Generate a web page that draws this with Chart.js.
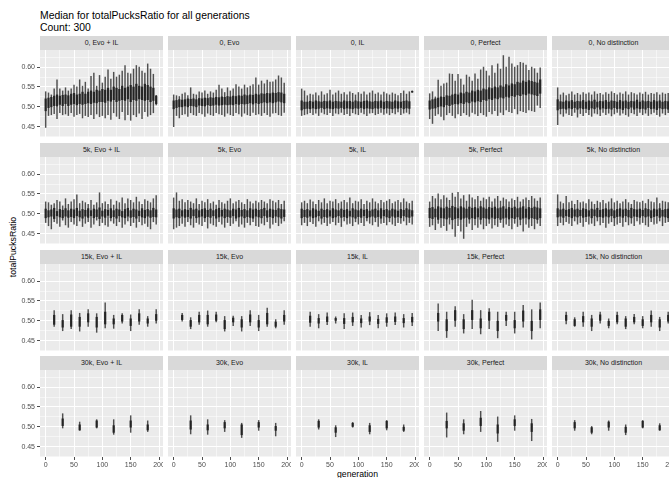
<!DOCTYPE html>
<html>
<head>
<meta charset="utf-8">
<title>Median for totalPucksRatio for all generations</title>
<script src="https://cdn.jsdelivr.net/npm/chart.js@4"></script>
<style>
    html, body { margin: 0; padding: 0; width: 669px; height: 478px; overflow: hidden; background: #fff; }
    body { font-family: 'Liberation Sans', Arial, sans-serif; }
    #page { position: relative; width: 669px; height: 478px; overflow: hidden; }
    .strip { position: absolute; height: 14px; width: 123px; background: #d9d9d9; color: #1a1a1a;
             font-size: 7px; line-height: 14px; text-align: center; white-space: nowrap; }
    .title { position: absolute; left: 40px; font-size: 10.4px; line-height: 1; color: #000; white-space: nowrap; }
    .axis-title { position: absolute; font-size: 8.7px; line-height: 1; color: #000; white-space: nowrap; }
    canvas { position: absolute; }
</style>
</head>
<body>
<div id="page">
    <div class="title" style="top:10.5px">Median for totalPucksRatio for all generations</div>
    <div class="title" style="top:22.7px">Count: 300</div>
    <div class="axis-title" style="left:357.5px; top:469.6px; transform:translateX(-50%)">generation</div>
    <div class="axis-title" style="left:13px; top:246.5px; transform:translate(-50%,-50%) rotate(-90deg)">totalPucksRatio</div>
</div>
<script>
// ── Data ──────────────────────────────────────────────────

const colNames = ['Evo + IL', 'Evo', 'IL', 'Perfect', 'No distinction'];
const rowNames = ['0', '5k', '15k', '30k'];

const gensEvery5 = [0,5,10,15,20,25,30,35,40,45,50,55,60,65,70,75,80,85,90,95,100,105,110,115,120,125,130,135,140,145,150,155,160,165,170,175,180,185,190,195];
const gensEvery15 = [15,30,45,60,75,90,105,120,135,150,165,180,195];
const gensEvery30 = [30,60,90,120,150,180];

const xTicks = [0, 50, 100, 150, 200];
const yTicks = [0.45, 0.50, 0.55, 0.60];

// row "0"
const p0_evoIL_lo = [.448,.478,.480,.483,.470,.485,.480,.482,.478,.485,.476,.480,.483,.472,.478,.475,.480,.470,.482,.475,.478,.472,.480,.468,.485,.476,.470,.488,.467,.480,.466,.480,.475,.484,.470,.488,.476,.480,.485,.505];
const p0_evoIL_q1 = [.490,.498,.500,.503,.502,.506,.503,.508,.503,.506,.508,.505,.508,.506,.508,.510,.508,.511,.510,.513,.513,.511,.516,.514,.518,.513,.516,.518,.516,.520,.513,.518,.516,.520,.518,.516,.518,.513,.516,.508];
const p0_evoIL_q3 = [.520,.522,.524,.527,.530,.527,.529,.530,.528,.532,.534,.530,.532,.537,.532,.537,.540,.537,.542,.540,.544,.542,.547,.542,.550,.547,.544,.552,.547,.550,.554,.550,.557,.552,.550,.557,.554,.550,.547,.527];
const p0_evoIL_hi = [.538,.535,.530,.545,.568,.545,.540,.548,.540,.545,.555,.550,.568,.552,.562,.545,.577,.585,.552,.579,.560,.575,.593,.570,.587,.575,.580,.590,.604,.585,.583,.595,.604,.600,.590,.585,.608,.595,.582,.529];

const p0_evo_lo = [.450,.478,.472,.480,.482,.476,.485,.480,.478,.485,.482,.476,.484,.480,.478,.485,.482,.480,.476,.484,.480,.478,.485,.482,.476,.484,.480,.478,.486,.480,.482,.478,.485,.480,.476,.484,.485,.480,.478,.486];
const p0_evo_q1 = [.495,.498,.500,.500,.502,.500,.503,.502,.500,.504,.503,.502,.505,.503,.504,.506,.504,.505,.506,.505,.506,.505,.508,.506,.508,.507,.508,.510,.507,.510,.508,.510,.512,.510,.512,.510,.512,.514,.512,.510];
const p0_evo_q3 = [.515,.516,.518,.517,.518,.520,.519,.520,.518,.521,.520,.522,.521,.523,.522,.524,.523,.525,.524,.526,.525,.527,.526,.528,.527,.530,.528,.530,.529,.532,.530,.533,.532,.534,.533,.535,.534,.536,.535,.532];
const p0_evo_hi = [.530,.528,.526,.532,.535,.528,.548,.532,.530,.538,.535,.540,.532,.538,.535,.542,.555,.545,.536,.548,.540,.545,.556,.550,.545,.555,.548,.552,.556,.573,.555,.565,.558,.567,.562,.563,.568,.578,.573,.560];

const p0_il_lo = [.478,.480,.482,.485,.480,.484,.478,.486,.482,.480,.485,.478,.484,.482,.486,.480,.483,.478,.485,.482,.480,.486,.482,.478,.484,.485,.480,.483,.486,.481,.484,.480,.485,.482,.487,.480,.484,.486,.482,.536];
const p0_il_q1 = [.492,.495,.496,.495,.497,.495,.496,.498,.495,.497,.496,.495,.497,.496,.498,.495,.497,.496,.495,.497,.496,.498,.495,.497,.496,.495,.497,.496,.498,.495,.497,.496,.495,.497,.496,.498,.495,.497,.496,.537];
const p0_il_q3 = [.515,.512,.512,.514,.512,.515,.513,.512,.514,.513,.515,.512,.514,.513,.512,.515,.513,.514,.512,.515,.513,.512,.514,.515,.513,.512,.514,.513,.515,.512,.514,.513,.512,.515,.513,.512,.514,.515,.513,.539];
const p0_il_hi = [.545,.540,.528,.532,.530,.535,.528,.538,.530,.533,.542,.530,.535,.540,.532,.536,.530,.538,.534,.530,.536,.532,.538,.530,.535,.540,.532,.535,.530,.537,.533,.530,.535,.532,.528,.534,.540,.532,.538,.540];

const p0_perfect_lo = [.470,.458,.478,.482,.476,.467,.480,.485,.478,.472,.482,.478,.485,.480,.476,.486,.482,.478,.485,.480,.476,.488,.482,.490,.478,.486,.480,.492,.488,.485,.495,.482,.490,.488,.485,.492,.490,.488,.504,.498];
const p0_perfect_q1 = [.494,.496,.497,.500,.502,.500,.505,.503,.506,.508,.507,.510,.508,.512,.510,.514,.512,.515,.513,.518,.516,.520,.518,.522,.520,.524,.522,.526,.524,.528,.526,.530,.528,.532,.530,.534,.532,.530,.528,.534];
const p0_perfect_q3 = [.515,.518,.520,.522,.525,.524,.528,.527,.530,.532,.530,.535,.533,.537,.535,.540,.538,.542,.540,.545,.543,.548,.546,.550,.548,.553,.550,.556,.553,.558,.556,.562,.560,.565,.562,.566,.564,.562,.560,.568];
const p0_perfect_hi = [.533,.538,.525,.567,.552,.558,.560,.583,.582,.565,.582,.570,.555,.580,.575,.565,.583,.570,.593,.600,.590,.578,.604,.585,.608,.595,.629,.600,.625,.608,.600,.604,.612,.610,.605,.592,.600,.596,.585,.598];

const p0_none_lo = [.455,.482,.476,.484,.480,.478,.486,.474,.483,.478,.485,.480,.476,.484,.482,.478,.486,.480,.484,.477,.482,.486,.479,.484,.480,.476,.485,.482,.478,.486,.480,.484,.478,.482,.486,.480,.476,.484,.480,.485];
const p0_none_q1 = [.492,.495,.496,.494,.497,.495,.498,.494,.497,.495,.496,.493,.497,.495,.499,.494,.497,.495,.496,.494,.498,.495,.496,.493,.497,.495,.499,.494,.497,.495,.496,.494,.498,.495,.496,.493,.497,.495,.496,.494];
const p0_none_q3 = [.518,.513,.512,.515,.513,.516,.512,.514,.513,.516,.512,.515,.513,.517,.512,.514,.513,.516,.512,.515,.514,.512,.516,.513,.515,.512,.514,.513,.517,.512,.515,.513,.514,.512,.516,.513,.515,.512,.514,.513];
const p0_none_hi = [.548,.530,.535,.528,.532,.538,.530,.534,.530,.536,.532,.535,.530,.538,.532,.534,.530,.536,.532,.538,.534,.530,.535,.532,.538,.530,.536,.533,.530,.535,.532,.537,.530,.534,.532,.536,.530,.535,.532,.534];

// row "5k"
const p5k_evoIL_lo = [.478,.470,.462,.480,.476,.468,.484,.472,.466,.480,.474,.470,.482,.468,.476,.480,.466,.474,.484,.470,.478,.472,.468,.482,.476,.470,.480,.466,.474,.482,.470,.478,.466,.480,.472,.476,.468,.462,.480,.474];
const p5k_evoIL_q1 = [.490,.492,.494,.488,.495,.492,.490,.494,.491,.493,.490,.495,.492,.489,.494,.491,.495,.490,.493,.488,.494,.491,.496,.490,.493,.489,.495,.492,.490,.494,.491,.493,.489,.495,.492,.490,.494,.491,.493,.492];
const p5k_evoIL_q3 = [.512,.508,.510,.514,.506,.511,.509,.513,.508,.512,.510,.514,.507,.511,.509,.513,.508,.512,.510,.515,.507,.511,.509,.513,.508,.512,.510,.506,.511,.514,.508,.512,.510,.507,.513,.509,.511,.508,.514,.510];
const p5k_evoIL_hi = [.530,.528,.522,.526,.534,.530,.520,.538,.524,.530,.536,.548,.526,.532,.528,.524,.534,.522,.528,.553,.526,.530,.524,.536,.522,.532,.528,.540,.526,.538,.534,.528,.542,.530,.524,.536,.532,.528,.538,.546];

const p5k_evo_lo = [.462,.466,.470,.476,.468,.480,.472,.466,.478,.474,.470,.480,.464,.476,.472,.468,.480,.474,.466,.478,.470,.476,.482,.468,.474,.466,.478,.472,.480,.470,.468,.476,.472,.480,.464,.474,.478,.470,.476,.482];
const p5k_evo_q1 = [.489,.492,.490,.494,.491,.493,.489,.495,.490,.492,.494,.490,.493,.491,.495,.489,.492,.494,.490,.493,.491,.495,.489,.492,.494,.490,.493,.491,.489,.494,.492,.490,.495,.491,.493,.490,.494,.492,.489,.493];
const p5k_evo_q3 = [.513,.510,.512,.508,.511,.509,.514,.510,.512,.508,.511,.513,.509,.512,.508,.511,.514,.509,.512,.510,.508,.512,.510,.514,.509,.511,.508,.513,.510,.512,.509,.511,.514,.508,.512,.510,.509,.513,.511,.510];
const p5k_evo_hi = [.540,.553,.532,.536,.528,.534,.530,.526,.538,.524,.532,.528,.536,.526,.530,.522,.534,.528,.525,.532,.538,.526,.530,.534,.528,.524,.536,.530,.526,.532,.528,.534,.530,.526,.536,.532,.528,.534,.524,.532];

const p5k_il_lo = [.472,.478,.470,.480,.475,.468,.482,.474,.478,.470,.476,.480,.472,.478,.468,.482,.474,.476,.470,.480,.474,.478,.470,.482,.476,.472,.480,.468,.476,.478,.472,.480,.474,.470,.478,.476,.482,.472,.478,.474];
const p5k_il_q1 = [.490,.493,.491,.494,.490,.492,.495,.489,.493,.491,.494,.490,.492,.495,.491,.493,.490,.494,.492,.489,.493,.491,.495,.490,.492,.494,.491,.493,.489,.495,.492,.490,.494,.491,.493,.490,.495,.492,.491,.494];
const p5k_il_q3 = [.512,.509,.511,.508,.513,.510,.507,.512,.509,.511,.508,.513,.510,.508,.512,.509,.511,.507,.513,.510,.508,.512,.509,.511,.507,.510,.512,.508,.513,.509,.511,.508,.512,.510,.507,.511,.509,.513,.510,.508];
const p5k_il_hi = [.528,.532,.526,.535,.530,.524,.534,.528,.538,.526,.532,.530,.536,.526,.530,.534,.528,.540,.526,.532,.530,.536,.524,.532,.528,.538,.530,.526,.534,.528,.532,.536,.526,.530,.534,.528,.538,.530,.526,.532];

const p5k_perfect_lo = [.468,.472,.460,.476,.466,.470,.458,.474,.462,.443,.470,.456,.438,.468,.476,.460,.472,.466,.474,.462,.470,.476,.464,.472,.468,.478,.466,.474,.470,.462,.476,.468,.472,.456,.474,.466,.470,.462,.476,.470];
const p5k_perfect_q1 = [.490,.488,.492,.486,.490,.489,.487,.491,.485,.488,.490,.486,.489,.491,.487,.490,.488,.492,.486,.490,.489,.487,.491,.488,.490,.486,.489,.491,.487,.490,.488,.492,.486,.489,.491,.487,.490,.488,.486,.490];
const p5k_perfect_q3 = [.514,.516,.512,.518,.515,.513,.517,.514,.519,.516,.513,.518,.515,.512,.517,.514,.516,.513,.518,.515,.512,.516,.514,.517,.513,.515,.518,.512,.516,.514,.517,.513,.515,.518,.512,.516,.514,.517,.515,.513];
const p5k_perfect_hi = [.530,.544,.538,.550,.536,.546,.540,.534,.552,.542,.554,.538,.546,.532,.548,.540,.536,.544,.532,.540,.536,.542,.530,.538,.544,.532,.540,.536,.530,.538,.534,.542,.530,.536,.540,.534,.544,.538,.532,.540];

const p5k_none_lo = [.470,.478,.472,.480,.476,.470,.482,.474,.478,.468,.480,.474,.476,.470,.482,.472,.478,.466,.476,.480,.470,.474,.478,.468,.480,.472,.476,.470,.482,.474,.478,.472,.468,.480,.474,.476,.482,.470,.478,.480];
const p5k_none_q1 = [.492,.494,.491,.495,.493,.490,.494,.492,.495,.491,.493,.494,.490,.495,.492,.493,.491,.494,.492,.495,.490,.493,.494,.491,.495,.492,.490,.494,.493,.491,.495,.492,.494,.490,.493,.495,.491,.494,.492,.490];
const p5k_none_q3 = [.513,.510,.512,.509,.511,.514,.510,.512,.509,.513,.511,.508,.512,.510,.514,.509,.511,.513,.510,.512,.508,.511,.513,.510,.512,.509,.514,.511,.510,.512,.509,.513,.511,.508,.512,.510,.513,.509,.511,.512];
const p5k_none_hi = [.548,.530,.526,.544,.528,.532,.524,.534,.528,.530,.526,.536,.530,.524,.532,.528,.534,.526,.530,.538,.528,.532,.526,.530,.536,.528,.524,.534,.530,.528,.532,.526,.536,.530,.528,.540,.526,.532,.530,.528];

// row "15k"
const p15k_evoIL_lo = [.486,.475,.480,.474,.486,.471,.482,.481,.494,.475,.491,.486,.494];
const p15k_evoIL_q1 = [.491,.484,.486,.486,.497,.484,.492,.492,.499,.488,.499,.494,.501];
const p15k_evoIL_q3 = [.514,.501,.515,.509,.518,.509,.522,.505,.514,.505,.518,.505,.516];
const p15k_evoIL_hi = [.526,.516,.526,.519,.528,.518,.545,.514,.518,.515,.528,.511,.528];

const p15k_evo_lo = [.499,.480,.491,.486,.497,.474,.488,.474,.488,.475,.486,.482,.491];
const p15k_evo_q1 = [.503,.486,.497,.492,.501,.480,.497,.484,.497,.484,.492,.486,.499];
const p15k_evo_q3 = [.514,.501,.514,.514,.515,.501,.507,.503,.515,.501,.519,.497,.514];
const p15k_evo_hi = [.519,.508,.522,.525,.522,.511,.512,.511,.526,.514,.532,.503,.526];

const p15k_il_lo = [.486,.482,.490,.494,.480,.488,.484,.490,.482,.486,.490,.484,.488];
const p15k_il_q1 = [.496,.494,.498,.501,.493,.497,.495,.499,.493,.496,.498,.495,.497];
const p15k_il_q3 = [.512,.506,.510,.506,.506,.509,.505,.510,.504,.508,.510,.506,.509];
const p15k_il_hi = [.522,.516,.520,.510,.518,.520,.514,.521,.514,.518,.520,.516,.519];

const p15k_perfect_lo = [.475,.458,.486,.469,.480,.467,.480,.457,.488,.469,.484,.454,.482];
const p15k_perfect_q1 = [.499,.475,.501,.480,.503,.482,.501,.475,.501,.482,.499,.475,.503];
const p15k_perfect_q3 = [.519,.503,.526,.503,.526,.505,.522,.499,.514,.501,.525,.499,.528];
const p15k_perfect_hi = [.543,.522,.536,.516,.552,.526,.531,.522,.522,.522,.539,.528,.545];

const p15k_none_lo = [.492,.486,.486,.475,.494,.482,.492,.480,.492,.482,.486,.475,.494];
const p15k_none_q1 = [.501,.488,.497,.486,.501,.488,.497,.486,.497,.488,.497,.484,.499];
const p15k_none_q3 = [.514,.503,.511,.505,.515,.499,.514,.505,.509,.503,.514,.503,.514];
const p15k_none_hi = [.522,.508,.522,.514,.522,.505,.522,.511,.516,.511,.525,.509,.522];

// row "30k"
const p30k_evoIL_lo = [.497,.491,.497,.481,.486,.488];
const p30k_evoIL_q1 = [.503,.492,.499,.486,.499,.492];
const p30k_evoIL_q3 = [.520,.505,.515,.503,.515,.505];
const p30k_evoIL_hi = [.533,.512,.518,.518,.528,.515];

const p30k_evo_lo = [.482,.481,.488,.473,.491,.477];
const p30k_evo_q1 = [.494,.492,.497,.480,.499,.491];
const p30k_evo_q3 = [.515,.505,.511,.505,.511,.501];
const p30k_evo_hi = [.528,.518,.516,.509,.516,.509];

const p30k_il_lo = [.494,.475,.499,.482,.492,.488];
const p30k_il_q1 = [.499,.486,.501,.488,.497,.491];
const p30k_il_q3 = [.514,.498,.509,.503,.514,.499];
const p30k_il_hi = [.518,.503,.511,.509,.516,.505];

const p30k_perfect_lo = [.474,.482,.488,.463,.491,.465];
const p30k_perfect_q1 = [.497,.491,.503,.484,.503,.488];
const p30k_perfect_q3 = [.514,.508,.522,.505,.518,.508];
const p30k_perfect_hi = [.535,.518,.539,.525,.528,.519];

const p30k_none_lo = [.491,.482,.491,.480,.497,.491];
const p30k_none_q1 = [.497,.486,.499,.486,.499,.492];
const p30k_none_q3 = [.511,.498,.512,.499,.514,.503];
const p30k_none_hi = [.516,.501,.515,.505,.516,.508];

// one row per facet: [generations, lower whisker, Q1, Q3, upper whisker]
const panelData = [
    [gensEvery5, p0_evoIL_lo, p0_evoIL_q1, p0_evoIL_q3, p0_evoIL_hi],
    [gensEvery5, p0_evo_lo, p0_evo_q1, p0_evo_q3, p0_evo_hi],
    [gensEvery5, p0_il_lo, p0_il_q1, p0_il_q3, p0_il_hi],
    [gensEvery5, p0_perfect_lo, p0_perfect_q1, p0_perfect_q3, p0_perfect_hi],
    [gensEvery5, p0_none_lo, p0_none_q1, p0_none_q3, p0_none_hi],
    [gensEvery5, p5k_evoIL_lo, p5k_evoIL_q1, p5k_evoIL_q3, p5k_evoIL_hi],
    [gensEvery5, p5k_evo_lo, p5k_evo_q1, p5k_evo_q3, p5k_evo_hi],
    [gensEvery5, p5k_il_lo, p5k_il_q1, p5k_il_q3, p5k_il_hi],
    [gensEvery5, p5k_perfect_lo, p5k_perfect_q1, p5k_perfect_q3, p5k_perfect_hi],
    [gensEvery5, p5k_none_lo, p5k_none_q1, p5k_none_q3, p5k_none_hi],
    [gensEvery15, p15k_evoIL_lo, p15k_evoIL_q1, p15k_evoIL_q3, p15k_evoIL_hi],
    [gensEvery15, p15k_evo_lo, p15k_evo_q1, p15k_evo_q3, p15k_evo_hi],
    [gensEvery15, p15k_il_lo, p15k_il_q1, p15k_il_q3, p15k_il_hi],
    [gensEvery15, p15k_perfect_lo, p15k_perfect_q1, p15k_perfect_q3, p15k_perfect_hi],
    [gensEvery15, p15k_none_lo, p15k_none_q1, p15k_none_q3, p15k_none_hi],
    [gensEvery30, p30k_evoIL_lo, p30k_evoIL_q1, p30k_evoIL_q3, p30k_evoIL_hi],
    [gensEvery30, p30k_evo_lo, p30k_evo_q1, p30k_evo_q3, p30k_evo_hi],
    [gensEvery30, p30k_il_lo, p30k_il_q1, p30k_il_q3, p30k_il_hi],
    [gensEvery30, p30k_perfect_lo, p30k_perfect_q1, p30k_perfect_q3, p30k_perfect_hi],
    [gensEvery30, p30k_none_lo, p30k_none_q1, p30k_none_q3, p30k_none_hi]
];

// ── Layout ────────────────────────────────────────────────

const PLOT_LEFT = 40;
const COL_PITCH = 128;
const PLOT_W = 123;
const PLOT_H = 87;
const PLOT_TOPS = [50, 157, 264, 370];
const STRIP_H = 14;
const Y_AXIS_W = 40;
const X_AXIS_H = 16;

const X_MIN = -10, X_MAX = 207;
const Y_MIN = 0.424, Y_MAX = 0.643;

Chart.defaults.font.family = "'Liberation Sans', Arial, sans-serif";

const panelBackground = {
    id: 'panelBackground',
    beforeDraw(chart) {
        const { ctx, chartArea: a } = chart;
        ctx.save();
        ctx.fillStyle = '#ebebeb';
        ctx.fillRect(a.left, a.top, a.right - a.left, a.bottom - a.top);
        ctx.restore();
    }
};

const isMajorX = v => xTicks.includes(v);
const isMajorY = v => yTicks.some(t => Math.abs(t - v) < 1e-6);

// ── Panels ────────────────────────────────────────────────

const page = document.getElementById('page');

for (let r = 0; r < rowNames.length; r++) {
    for (let c = 0; c < colNames.length; c++) {
        makePanel(r, c);
    }
}

function makePanel(r, c) {
    const [gens, lo, q1, q3, hi] = panelData[r * colNames.length + c];
    const isLeft = c === 0;
    const isBottom = r === rowNames.length - 1;
    const plotLeft = PLOT_LEFT + c * COL_PITCH;
    const plotTop = PLOT_TOPS[r];

    const strip = document.createElement('div');
    strip.className = 'strip';
    strip.style.left = plotLeft + 'px';
    strip.style.top = (plotTop - STRIP_H) + 'px';
    strip.textContent = `${rowNames[r]}, ${colNames[c]}`;
    page.appendChild(strip);

    const canvas = document.createElement('canvas');
    const w = PLOT_W + (isLeft ? Y_AXIS_W : 0);
    const h = PLOT_H + (isBottom ? X_AXIS_H : 0);
    canvas.width = w;
    canvas.height = h;
    canvas.style.left = (isLeft ? 0 : plotLeft) + 'px';
    canvas.style.top = plotTop + 'px';
    canvas.style.width = w + 'px';
    canvas.style.height = h + 'px';
    page.appendChild(canvas);

    new Chart(canvas, {
        type: 'bar',
        data: {
            datasets: [
                {
                    label: 'box',
                    data: gens.map((g, i) => ({ x: g, y: [q1[i], q3[i]] })),
                    backgroundColor: 'rgba(30,30,30,0.9)',
                    barThickness: 1.6,
                    grouped: false,
                    order: 0
                },
                {
                    label: 'whisker',
                    data: gens.map((g, i) => ({ x: g, y: [lo[i], hi[i]] })),
                    backgroundColor: 'rgba(40,40,40,0.8)',
                    barThickness: 0.8,
                    grouped: false,
                    order: 1
                }
            ]
        },
        options: {
            responsive: false,
            animation: false,
            devicePixelRatio: 1,
            layout: { padding: 0 },
            plugins: { legend: { display: false }, tooltip: { enabled: false } },
            scales: {
                x: {
                    type: 'linear',
                    min: X_MIN,
                    max: X_MAX,
                    offset: false,
                    border: { display: false },
                    grid: {
                        offset: false,
                        color: '#ffffff',
                        lineWidth: ctx => isMajorX(ctx.tick.value) ? 1 : 0.5,
                        drawTicks: isBottom,
                        tickLength: 3,
                        tickWidth: 1,
                        tickColor: ctx => isMajorX(ctx.tick.value) ? '#4d4d4d' : 'rgba(0,0,0,0)'
                    },
                    ticks: {
                        display: isBottom,
                        stepSize: 25,
                        includeBounds: false,
                        autoSkip: false,
                        maxRotation: 0,
                        padding: 1,
                        color: '#4d4d4d',
                        font: { size: 7 },
                        callback: v => isMajorX(v) ? String(v) : ''
                    },
                    afterFit: s => {
                        s.height = isBottom ? X_AXIS_H : 0;
                        s.paddingLeft = 0;
                        s.paddingRight = 0;
                    }
                },
                y: {
                    min: Y_MIN,
                    max: Y_MAX,
                    beginAtZero: false,
                    border: { display: false },
                    grid: {
                        color: '#ffffff',
                        lineWidth: ctx => isMajorY(ctx.tick.value) ? 1 : 0.5,
                        drawTicks: isLeft,
                        tickLength: 3,
                        tickWidth: 1,
                        tickColor: ctx => isMajorY(ctx.tick.value) ? '#4d4d4d' : 'rgba(0,0,0,0)'
                    },
                    ticks: {
                        display: isLeft,
                        stepSize: 0.025,
                        includeBounds: false,
                        autoSkip: false,
                        padding: 2,
                        color: '#4d4d4d',
                        font: { size: 7 },
                        callback: v => isMajorY(v) ? v.toFixed(2) : ''
                    },
                    afterFit: s => {
                        s.width = isLeft ? Y_AXIS_W : 0;
                        s.paddingTop = 0;
                        s.paddingBottom = 0;
                    }
                }
            }
        },
        plugins: [panelBackground]
    });
}
</script>
</body>
</html>
